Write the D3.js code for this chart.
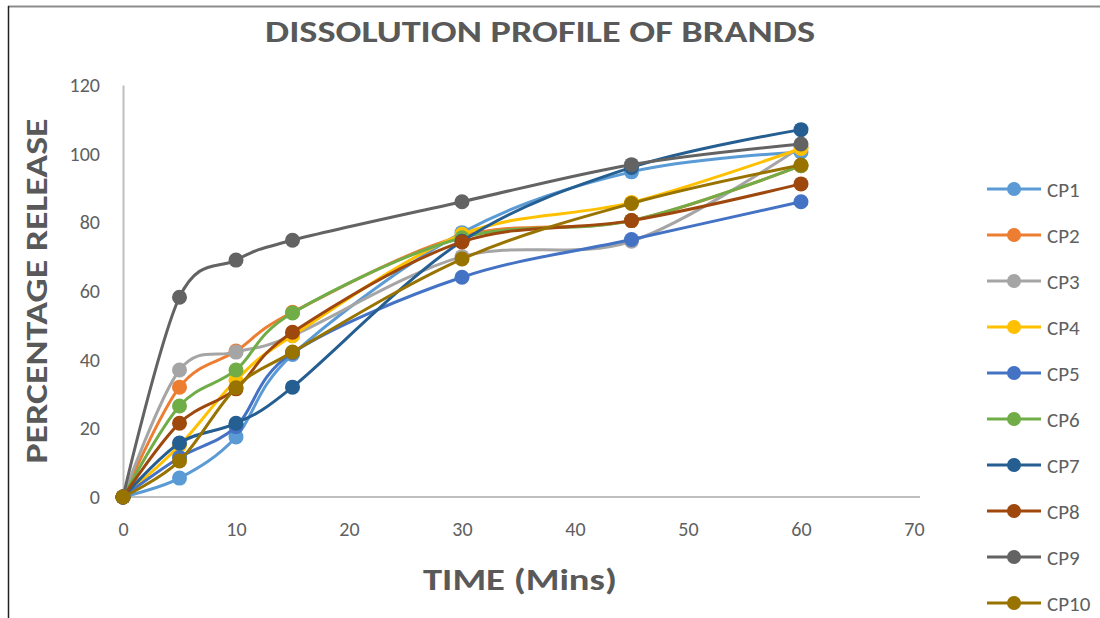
<!DOCTYPE html>
<html><head><meta charset="utf-8">
<script src="https://cdn.jsdelivr.net/npm/d3@7"></script>
<style>body{margin:0;background:#fff;}svg{display:block;}</style>
</head><body>
<script>
const times = [0, 5, 10, 15, 30, 45, 60];
const seriesNames = ["CP1","CP2","CP3","CP4","CP5","CP6","CP7","CP8","CP9","CP10"];
const cp1  = [0, 5.5, 17.5, 41.5, 77, 94.7, 100.5];
const cp2  = [0, 32, 42.5, 53.8, 76, 80.5, 96.5];
const cp3  = [0, 37, 42.2, 47, 70, 74.5, 102];
const cp4  = [0, 15, 34, 47, 76.5, 85.8, 101.5];
const cp5  = [0, 11.5, 20.5, 42, 64, 75, 86];
const cp6  = [0, 26.5, 37, 53.6, 75.5, 80.5, 96.5];
const cp7  = [0, 15.7, 21.5, 32, 74.5, 96, 107];
const cp8  = [0, 21.5, 31.5, 48, 74.3, 80.5, 91.2];
const cp9  = [0, 58.2, 69, 74.8, 86, 96.8, 102.8];
const cp10 = [0, 10.5, 31.8, 42.2, 69.3, 85.5, 96.7];
const seriesValues = [cp1, cp2, cp3, cp4, cp5, cp6, cp7, cp8, cp9, cp10];
const colors = ["#5B9BD5","#ED7D31","#A5A5A5","#FFC000","#4472C4","#70AD47","#255E91","#9E480E","#636363","#997300"];
const xTicks = [0,10,20,30,40,50,60,70];
const yTicks = [0,20,40,60,80,100,120];

const W = 1100, H = 618;
const svg = d3.select("body").append("svg").attr("width", W).attr("height", H);
const font = "Carlito, Lato, 'Open Sans', sans-serif";
const txt = "#595959";

// frame
svg.append("line").attr("x1",8).attr("x2",W).attr("y1",6.5).attr("y2",6.5).attr("stroke","#8c8c8c").attr("stroke-width",2);
svg.append("line").attr("x1",8.5).attr("x2",8.5).attr("y1",6).attr("y2",H).attr("stroke","#222").attr("stroke-width",1.5);

const x = d3.scaleLinear().domain([0,70]).range([123, 914]);
const y = d3.scaleLinear().domain([0,120]).range([497, 85]);

// axes
const xAxis = svg.append("g").attr("transform",`translate(0,${y(0)})`)
  .call(d3.axisBottom(x).tickValues(xTicks).tickSize(0).tickPadding(25).tickFormat(d3.format("d")));
const yAxis = svg.append("g").attr("transform",`translate(${x(0)},0)`)
  .call(d3.axisLeft(y).tickValues(yTicks).tickSize(0).tickPadding(23).tickFormat(d3.format("d")));
[xAxis, yAxis].forEach(a => {
  a.select(".domain").attr("stroke","#bfbfbf").attr("stroke-width",2);
  a.selectAll("text").attr("fill","#606060").attr("font-family",font).attr("font-size",20);
});
xAxis.select(".domain").attr("d", `M${x(0)},0H${x(70)+6}`);

// titles
svg.append("text").attr("x",540).attr("y",42).attr("text-anchor","middle")
  .attr("font-family",font).attr("font-weight","bold").attr("font-size",31).attr("fill",txt)
  .attr("textLength",550).attr("lengthAdjust","spacingAndGlyphs")
  .text("DISSOLUTION PROFILE OF BRANDS");
svg.append("text").attr("x",520).attr("y",590).attr("text-anchor","middle")
  .attr("font-family",font).attr("font-weight","bold").attr("font-size",31).attr("fill",txt)
  .attr("textLength",194).attr("lengthAdjust","spacingAndGlyphs")
  .text("TIME (Mins)");
svg.append("text").attr("transform","translate(47,291) rotate(-90)").attr("text-anchor","middle")
  .attr("font-family",font).attr("font-weight","bold").attr("font-size",31).attr("fill",txt)
  .attr("textLength",345).attr("lengthAdjust","spacingAndGlyphs")
  .text("PERCENTAGE  RELEASE");

// series
const line = d3.line().x((d,i)=>x(times[i])).y(d=>y(d)).curve(d3.curveCardinal.tension(0));
seriesValues.forEach((vals, si) => {
  const g = svg.append("g");
  g.append("path").attr("d", line(vals)).attr("fill","none")
    .attr("stroke", colors[si]).attr("stroke-width",3).attr("stroke-linecap","round");
  g.selectAll("circle").data(vals).join("circle")
    .attr("cx",(d,i)=>x(times[i])).attr("cy",d=>y(d)).attr("r",7.5).attr("fill",colors[si]);
});

// legend
const leg = svg.append("g");
seriesNames.forEach((n, i) => {
  const ly = 189 + i*46;
  leg.append("line").attr("x1",987).attr("x2",1041).attr("y1",ly).attr("y2",ly)
    .attr("stroke",colors[i]).attr("stroke-width",3);
  leg.append("circle").attr("cx",1014).attr("cy",ly).attr("r",7).attr("fill",colors[i]);
  leg.append("text").attr("x",1047).attr("y",ly).attr("dy","0.36em")
    .attr("font-family",font).attr("font-size",21).attr("fill","#606060").text(n);
});
</script>
</body></html>
